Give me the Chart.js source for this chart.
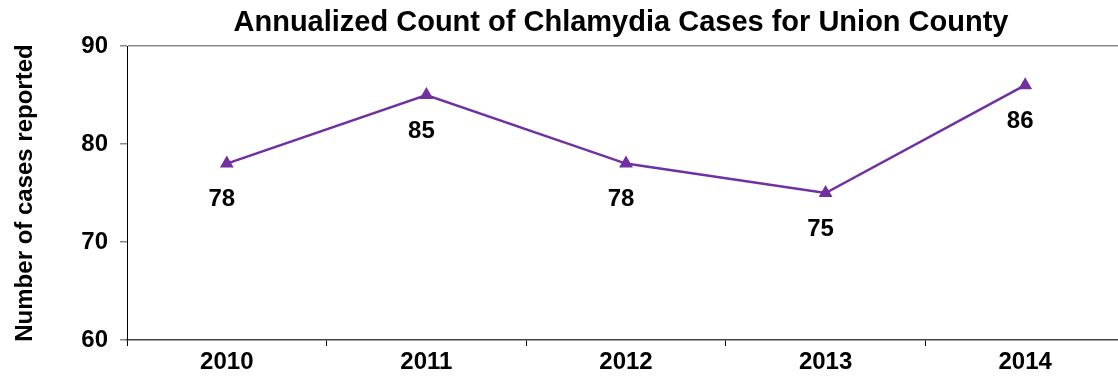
<!DOCTYPE html>
<html>
<head>
<meta charset="utf-8">
<script src="https://cdn.jsdelivr.net/npm/chart.js@4/dist/chart.umd.min.js"></script>
<style>
  html, body { margin: 0; padding: 0; background: #fff; overflow: hidden; }
  canvas { display: block; }
</style>
</head>
<body>
<canvas id="myChart" width="1126" height="384"></canvas>
<script>
const years = ["2010", "2011", "2012", "2013", "2014"];
const cases = [78, 85, 78, 75, 86];
const yTicks = [60, 70, 80, 90];

const purple = "#7030A0";
const font = "'Liberation Sans', Arial, sans-serif";

// title centred over the plot area rather than the canvas
const titlePlugin = {
  id: "plotTitle",
  afterDraw(chart) {
    const { ctx, chartArea } = chart;
    ctx.save();
    ctx.font = `bold 29px ${font}`;
    ctx.fillStyle = "#000";
    ctx.textAlign = "center";
    ctx.textBaseline = "middle";
    ctx.fillText("Annualized Count of Chlamydia Cases for Union County", (chartArea.left + chartArea.right) / 2 - 5, 23);
    ctx.restore();
  },
};

// value labels under each marker
const valueLabels = {
  id: "valueLabels",
  afterDatasetsDraw(chart) {
    const { ctx } = chart;
    const meta = chart.getDatasetMeta(0);
    ctx.save();
    ctx.font = `bold 24px ${font}`;
    ctx.fillStyle = "#000";
    ctx.textAlign = "center";
    ctx.textBaseline = "middle";
    meta.data.forEach((pt, i) => {
      ctx.fillText(String(cases[i]), pt.x - 5, pt.y + 36);
    });
    ctx.restore();
  },
};

const ctx = document.querySelector("#myChart").getContext("2d");

const myChart = new Chart(ctx, {
  type: "line",
  data: {
    labels: years,
    datasets: [
      {
        data: cases,
        borderColor: purple,
        backgroundColor: purple,
        borderWidth: 2.5,
        pointStyle: "triangle",
        pointRadius: 8,
        pointBackgroundColor: purple,
        pointBorderColor: purple,
        pointBorderWidth: 0,
        tension: 0,
        clip: false,
      },
    ],
  },
  options: {
    responsive: false,
    animation: false,
    // canvas is a bit wider than the window, the plot runs past the right edge
    layout: { autoPadding: false, padding: { top: 46, right: 1, left: 0, bottom: 0 } },
    plugins: {
      legend: { display: false },
      title: { display: false },
      tooltip: { enabled: false },
    },
    scales: {
      x: {
        offset: true,
        grid: {
          offset: true,
          drawOnChartArea: false,
          color: "#000",
          tickLength: 6,
        },
        border: { color: "#444", width: 1.5 },
        ticks: {
          color: "#000",
          font: { family: font, size: 24, weight: "bold" },
          padding: 2,
        },
        afterFit(scale) {
          scale.height = 44;
        },
      },
      y: {
        min: 60,
        max: 90,
        afterBuildTicks(scale) {
          scale.ticks = yTicks.map((v) => ({ value: v }));
        },
        grid: {
          color: (c) => (c.tick && c.tick.value === 90 ? "#888" : "rgba(0,0,0,0)"),
          tickColor: "#888",
          tickLength: 7,
          lineWidth: 1.5,
        },
        border: { color: "#000", width: 1 },
        ticks: {
          color: "#000",
          font: { family: font, size: 24, weight: "bold" },
          padding: 12,
        },
        title: {
          display: true,
          text: "Number of cases reported",
          color: "#000",
          font: { family: font, size: 24, weight: "bold" },
          padding: { top: 11, bottom: 0 },
        },
        afterFit(scale) {
          scale.width = 127;
        },
      },
    },
  },
  plugins: [titlePlugin, valueLabels],
});
</script>
</body>
</html>
